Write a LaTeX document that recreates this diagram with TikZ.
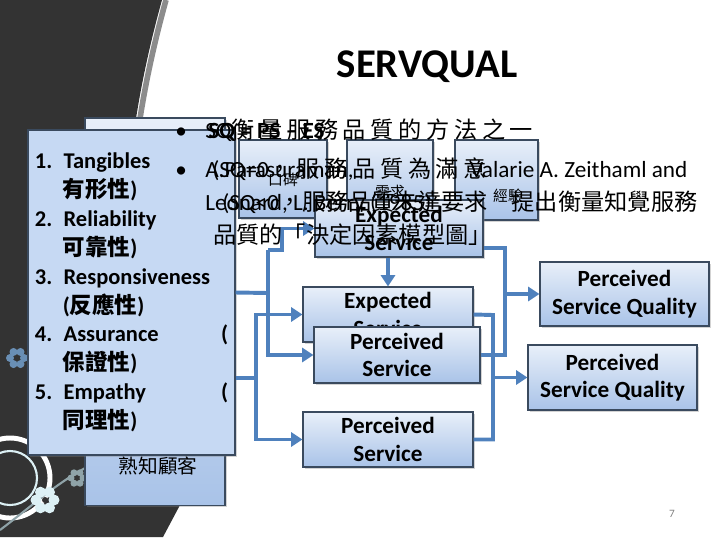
\documentclass[tikz,border=0pt]{standalone}
\usepackage{fontspec}
\setmainfont{Carlito}
\newfontfamily\cjk{Noto Sans CJK TC}
\newfontfamily\cjkwide[LetterSpace=20]{Noto Sans CJK TC}
\usetikzlibrary{arrows.meta,shadows}

\definecolor{slidedark}{HTML}{333333}
\definecolor{stripe}{HTML}{8C8C8C}
\definecolor{boxtop}{HTML}{E8EFF9}
\definecolor{boxbot}{HTML}{A9C3E8}
\definecolor{boxline}{HTML}{3A4A5E}
\definecolor{listfill}{HTML}{C6D9F3}
\definecolor{flowblue}{HTML}{4F81BD}
\definecolor{petal}{HTML}{DDF1F5}
\definecolor{leafgray}{HTML}{8FA3A8}

\tikzset{
  panel/.style={draw=boxline, line width=0.8pt, top color=boxtop, bottom color=boxbot,
    drop shadow={shadow xshift=1.5pt, shadow yshift=-1.5pt, opacity=0.35}, inner sep=0pt},
  factor/.style={panel, font=\fontsize{16.5}{19.5}\selectfont\bfseries, align=center},
  flow/.style={draw=flowblue, line width=2.8pt},
  tip/.style={-{Triangle[length=8pt,width=10pt]}},
  said/.style={font=\fontsize{16.5}{20}\selectfont, anchor=base west, inner sep=0pt},
  cue/.style={font=\fontsize{10.5}{12}\selectfont\cjk, inner sep=0pt},
}

\begin{document}
\begin{tikzpicture}[x=0.025cm, y=-0.025cm]
\useasboundingbox (0,0) rectangle (720,540);

% dark corner of the slide
\draw[stripe, line width=4pt] (166,0) .. controls (152,50) and (142,100) .. (137,140);
\fill[slidedark, save path=\darkedge] (0,0) -- (162,0) .. controls (148,50) and (138,100) .. (133,140)
  -- (160,400) .. controls (178,450) and (184,480) .. (180,505) -- (163,537) -- (0,537) -- cycle;
\begin{scope}
  \clip[use path=\darkedge];
  \draw[white, line width=3.5pt] (10,478) circle (40);
  \draw[petal, line width=1.5pt] (10,478) circle (27);
  \draw[leafgray, line width=1.5pt] (0,530) .. controls (40,500) and (70,470) .. (115,455);
  \foreach \a in {0,60,...,300}
    \fill[petal] (45,500) ++(\a:9) circle (5.5);
  \fill[slidedark] (45,500) circle (3);
  \foreach \a in {0,60,...,300}
    \fill[leafgray] (77,478) ++(\a:6) circle (3.5);
  \foreach \a in {0,60,...,300}
    \fill[flowblue!60!leafgray] (17,358) ++(\a:7) circle (4);
\end{scope}

% boxes
\node[panel, minimum width=3.5cm, minimum height=9.675cm] (know) at (155,311.5) {};
\node[font=\fontsize{14}{16}\selectfont\cjk, inner sep=0pt] (knowtxt) at (158,466) {熟知顧客};
\node[draw=boxline, line width=0.8pt, fill=listfill,
  drop shadow={shadow xshift=1.5pt, shadow yshift=-1.5pt, opacity=0.35},
  minimum width=5.175cm, minimum height=8.125cm, text width=4.825cm,
  inner xsep=0.175cm, inner ysep=0pt, align=left,
  font=\fontsize{16}{20.5}\selectfont\bfseries] (dims) at (131.5,292.5) {%
  1. Tangibles\\
  \hspace*{0.7cm}{\cjk 有形性})\\
  2. Reliability\\
  \hspace*{0.7cm}{\cjk 可靠性})\\
  3. Responsiveness\\
  \hspace*{0.7cm}({\cjk 反應性})\\
  4. Assurance\hspace{0pt plus 1filll}(\\
  \hspace*{0.7cm}{\cjk 保證性})\\
  5. Empathy\hspace{0pt plus 1filll}(\\
  \hspace*{0.7cm}{\cjk 同理性})};

\node[panel, minimum width=2.2cm, minimum height=1.95cm] (wom) at (283,179) {};
\node[panel, minimum width=2.15cm, minimum height=1.95cm] (need) at (390,179) {};
\node[panel, minimum width=2.075cm, minimum height=2cm] (exper) at (496.5,180) {};
\node[cue] (womtxt) at (283,180) {口碑};
\node[cue] (needtxt) at (390,192) {需求};
\node[cue] (expertxt) at (508,196) {經驗};

\node[factor, minimum width=4.2cm, minimum height=1.425cm] (expT) at (399,228.5) {Expected\\Service};
\node[factor, minimum width=4.25cm, minimum height=1.375cm] (expM) at (388,314.5) {Expected\\Service};
\node[factor, minimum width=4.15cm, minimum height=1.4cm] (percA) at (397,355) {Perceived\\Service};
\node[factor, minimum width=4.25cm, minimum height=1.375cm] (percB) at (388,439.5) {Perceived\\Service};
\node[factor, minimum width=4.225cm, minimum height=1.6cm] (psqA) at (624.5,294) {Perceived\\Service Quality};
\node[factor, minimum width=4.225cm, minimum height=1.625cm] (psqB) at (612.5,377.5) {Perceived\\Service Quality};

% connectors
\coordinate (j1) at (268,293);
\coordinate (j1top) at (268,250);
\coordinate (k1) at (282,250);
\coordinate (j2) at (256,378);
\coordinate (t1) at (505,248);
\coordinate (t2) at (493,315);
\draw[flow] (dims.east) -- (j1);
\draw[flow,tip] (j1top) |- (percA.west);
\draw[flow,tip] (j1top) -- (k1) |- (expT.west);
\draw[flow] (dims.east |- j2) -- (j2);
\draw[flow,tip] (j2) |- (expM.west);
\draw[flow,tip] (j2) |- (percB.west);
\draw[flow,tip] (expT.south -| expM.north) -- (expM.north);
\draw[flow] (expT.east |- t1) -- (t1) |- (percA.east);
\draw[flow,tip] (t1 |- psqA.west) -- (psqA.west);
\draw[flow] (expM.east) -- (t2) |- (percB.east);
\draw[flow,tip] (t2 |- psqB.west) -- (psqB.west);

% slide text
\node[font=\fontsize{29}{32}\selectfont\bfseries] (title) at (427,67) {SERVQUAL};
\node[said] (dot1) at (175,138) {•};
\node[said] (dot2) at (175,177) {•};
\node[said] (l1) at (205,138) {SQ{\cjkwide 衡量服務品質的方法之一}};
\node[said, font=\fontsize{16.5}{20}\selectfont\bfseries] (l1b) at (208,138) {SQ = PS – ES};
\node[said] (l2) at (205,177) {\makebox[12.05cm][l]{A.Parasuraman,\hfill Valarie A. Zeithaml and}};
\node[said] (l2b) at (212,177) {(SQ=0{\cjkwide ，服務品質為滿意}};
\node[said] (l3) at (205,210) {\makebox[12.3cm][l]{Leonard, L. Berry (1985)\hfill{\cjk 提出衡量知覺服務}}};
\node[said] (l3b) at (222,210) {(SQ<0{\cjk ，服務品質未達要求}};
\node[said] (l4) at (213,243) {{\cjk 品質的「決定因素模型圖」}};
\node[font=\fontsize{8}{9}\selectfont, text=gray] (pageno) at (672,514) {7};
\end{tikzpicture}
\end{document}
